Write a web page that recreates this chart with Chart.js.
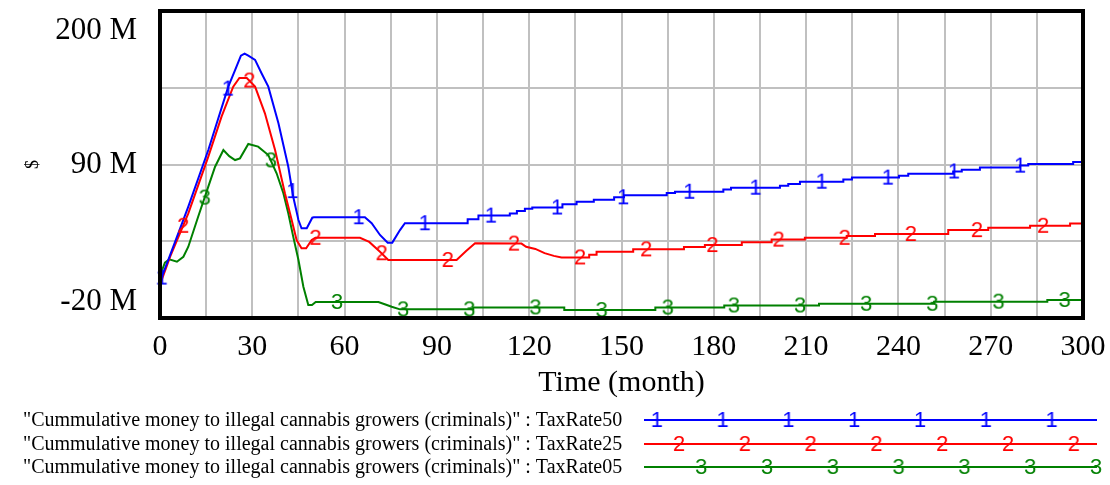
<!DOCTYPE html>
<html>
<head>
<meta charset="utf-8">
<title>Cummulative money to illegal cannabis growers</title>
<script src="https://cdn.jsdelivr.net/npm/chart.js@4.4.1/dist/chart.umd.min.js"></script>
<style>
  html, body { margin: 0; padding: 0; background: #fff; }
</style>
</head>
<body>
<canvas id="chart" width="1110" height="485"></canvas>
<script>
// ===== Data (values in millions of $, time in months) =====
const timeRate50 = [0, 0.5, 2.7, 9.2, 15.7, 22.2, 24.4, 26.3, 27.5, 28.7, 30.9, 33, 35.2, 38.5, 41.7, 43.3, 45, 46, 47.7, 49.5, 50,
  66.6, 68.8, 71.5, 74, 75.5, 78, 79.6, 100, 100, 103.5, 103.5, 113.7, 113.7, 116, 116, 118.6, 118.6, 121, 121,
  130.8, 130.8, 135.4, 135.4, 141, 141, 147.6, 147.6, 150.8, 150.8, 164.7, 164.7, 167.4, 167.4, 183.1, 183.1,
  185.6, 185.6, 201.5, 201.5, 204.2, 204.2, 208, 208, 222.1, 222.1, 224.9, 224.9, 240.2, 240.2, 243.2, 243.2,
  257.8, 257.8, 260.6, 260.6, 266.5, 266.5, 279.5, 279.5, 282.2, 282.2, 296.8, 296.8, 300];
const taxRate50 = [0, 9, 21.6, 59.8, 100.4, 145.8, 157.7, 168, 169.5, 168, 165, 155.4, 145.8, 119.5, 88.4, 66.9, 50.2, 44.3, 44.3, 51.9, 52.2,
  52.2, 47.9, 39.5, 34, 34, 43, 47.9, 47.9, 50.8, 50.8, 53.4, 53.4, 54.8, 54.8, 56.6, 56.6, 58.3, 58.3, 59.2,
  59.2, 61.5, 61.5, 63.3, 63.3, 64.8, 64.8, 66.5, 66.5, 68, 68, 69.6, 69.6, 70.5, 70.5, 72,
  72, 73.4, 73.4, 74.8, 74.8, 76.1, 76.1, 77.7, 77.7, 79.2, 79.2, 80.6, 80.6, 82, 82, 83.4,
  83.4, 85, 85, 86.3, 86.3, 87.8, 87.8, 89.2, 89.2, 90.4, 90.4, 91.8, 91.8];

const timeRate25 = [0, 0.5, 3.3, 9.2, 15.7, 20, 23.8, 25.8, 28.2, 30.9, 34.1, 37.4, 40.6, 42.8, 44.4, 46, 47.5, 49.3, 50.5,
  65, 68, 71.5, 74.2, 96.4, 99.5, 102.4, 117.5, 119, 122, 125, 128, 130.5, 139.5, 139.5, 141.9, 141.9,
  153.8, 153.8, 170.3, 170.3, 177.1, 177.1, 189.1, 189.1, 198.8, 198.8, 209.6, 209.6, 223.2, 223.2,
  232.4, 232.4, 256.2, 256.2, 269.2, 269.2, 282.8, 282.8, 295.8, 295.8, 300];
const taxRate25 = [0, 7, 24, 55, 95.6, 124.3, 145.8, 152, 152, 145.8, 126.7, 100.4, 69.4, 50.2, 35.9, 30, 30, 35.9, 37.5,
  37.5, 34.5, 27.5, 21.6, 21.6, 28, 33.5, 33.3, 31, 29.5, 26.5, 24.5, 23.4, 23.4, 25.3, 25.3, 27.4,
  27.4, 29.2, 29.2, 30.9, 30.9, 32.3, 32.3, 34.2, 34.2, 36.2, 36.2, 37.5, 37.5, 38.8,
  38.8, 40.2, 40.2, 43, 43, 44.6, 44.6, 46.1, 46.1, 47.7, 47.7];

const timeRate05 = [0, 0.8, 1.6, 3, 5.5, 7.6, 9.2, 12.4, 15.7, 17.9, 20.6, 22.5, 24.4, 26, 28.7, 31.9, 35.2, 37.9, 40.1,
  41.7, 43.3, 45, 46.6, 48.2, 49.4, 50.6, 71, 73.5, 75.3, 78, 101.8, 101.8, 131.4, 131.4, 161, 161,
  183.4, 183.4, 214.2, 214.2, 251.6, 251.6, 288.4, 288.4, 300];
const taxRate05 = [0, 15, 19.6, 22, 20.3, 23.9, 31.1, 52.6, 74.1, 88.4, 100.4, 96, 93.2, 94.4, 104.7, 102.8, 96.8, 83.7, 69.4,
  55, 38.3, 21.6, 2.4, -10.7, -10.7, -8.5, -8.5, -10.5, -11.9, -13.8, -13.8, -12.4, -12.4, -14.3, -14.3, -12.5,
  -12.5, -11, -11, -9.8, -9.8, -8.3, -8.3, -7.1, -7.1];

// times where the series number is printed on each line
const markTimes50 = [0.5, 22, 43, 64.5, 86, 107.5, 129, 150.5, 172, 193.5, 215, 236.5, 258, 279.5];
const markTimes25 = [7.5, 29, 50.5, 72, 93.5, 115, 136.5, 158, 179.5, 201, 222.5, 244, 265.5, 287];
const markTimes05 = [14.5, 36, 57.5, 79, 100.5, 122, 143.5, 165, 186.5, 208, 229.5, 251, 272.5, 294];

const yGridValues = [-20, 35, 90, 145, 200];
const yLabelValues = [200, 90, -20];
const variableName = '"Cummulative money to illegal cannabis growers (criminals)"';
const runNames = ['TaxRate50', 'TaxRate25', 'TaxRate05'];
const runColors = ['#0000ff', '#ff0000', '#008000'];

const SERIF = '"Liberation Serif", "Times New Roman", serif';
const SANS = '"Liberation Sans", Arial, sans-serif';

// ===== helpers =====
function toPoints(times, values) {
  return times.map((t, i) => ({ x: t, y: values[i] }));
}

// value of the drawn polyline at time t
function lineValueAt(times, values, t) {
  let i = 0;
  while (i < times.length - 2 && times[i + 1] <= t) i++;
  const t0 = times[i], t1 = times[i + 1];
  if (t1 === t0) return values[i + 1];
  return values[i] + (values[i + 1] - values[i]) * (t - t0) / (t1 - t0);
}

function digitImage(digit, color) {
  const c = document.createElement('canvas');
  c.width = 20;
  c.height = 26;
  const g = c.getContext('2d');
  g.font = '22px ' + SANS;
  g.fillStyle = color;
  g.textAlign = 'center';
  g.textBaseline = 'middle';
  g.fillText(digit, 10, 14);
  return c;
}

const runs = [
  { times: timeRate50, values: taxRate50, marks: markTimes50 },
  { times: timeRate25, values: taxRate25, marks: markTimes25 },
  { times: timeRate05, values: taxRate05, marks: markTimes05 }
];
const digits = runs.map((r, i) => digitImage(String(i + 1), runColors[i]));

const datasets = [];
runs.forEach((r, i) => {
  datasets.push({
    label: runNames[i],
    data: toPoints(r.times, r.values),
    borderColor: runColors[i],
    borderWidth: 2,
    pointRadius: 0,
    fill: false,
    order: i + 1
  });
  datasets.push({
    label: runNames[i] + ' marks',
    data: r.marks.map(t => ({ x: t, y: lineValueAt(r.times, r.values, t) })),
    showLine: false,
    pointStyle: digits[i],
    pointRadius: 8,
    clip: false,
    order: 0
  });
});

// ===== frame, y labels and run legend =====
const vensimDecor = {
  id: 'vensimDecor',
  afterDraw(chart) {
    const { ctx, chartArea: a, scales } = chart;
    ctx.save();

    // heavy plot frame
    ctx.strokeStyle = '#000';
    ctx.lineWidth = 4;
    ctx.strokeRect(a.left, a.top, a.right - a.left, a.bottom - a.top);

    // value labels: top one sits inside the top edge, bottom one inside the bottom edge
    ctx.fillStyle = '#000';
    ctx.font = '31px ' + SERIF;
    ctx.textAlign = 'right';
    ctx.textBaseline = 'middle';
    yLabelValues.forEach((v, i) => {
      let y = scales.y.getPixelForValue(v);
      if (i === 0) y += 20;
      if (i === yLabelValues.length - 1) y -= 16;
      ctx.fillText(v + ' M', 137, y);
    });

    // legend rows
    const rowY = [420, 444, 467];
    ctx.textAlign = 'left';
    ctx.font = '20px ' + SERIF;
    runNames.forEach((name, i) => {
      ctx.fillStyle = '#000';
      ctx.fillText(variableName + ' : ' + name, 23, rowY[i] + 1);
      ctx.strokeStyle = runColors[i];
      ctx.lineWidth = 2;
      ctx.beginPath();
      ctx.moveTo(644, rowY[i]);
      ctx.lineTo(1097, rowY[i]);
      ctx.stroke();
      for (let k = 0; k < 7; k++) {
        const x = 656.7 + i * 22.2 + k * 65.8;
        ctx.drawImage(digits[i], x - 10, rowY[i] - 13);
      }
    });

    ctx.restore();
  }
};

// ===== chart =====
const ctx = document.getElementById('chart').getContext('2d');
new Chart(ctx, {
  type: 'line',
  data: { datasets: datasets },
  options: {
    responsive: false,
    animation: false,
    layout: { padding: { top: 11, right: 27, bottom: 84, left: 0 } },
    plugins: {
      legend: { display: false },
      tooltip: { enabled: false }
    },
    scales: {
      x: {
        type: 'linear',
        min: 0,
        max: 300,
        afterFit: s => {
          s.height = 83;
          s.paddingLeft = 0;
          s.paddingRight = 0;
        },
        ticks: {
          stepSize: 15,
          autoSkip: false,
          maxRotation: 0,
          padding: 11,
          color: '#000',
          font: { family: SERIF, size: 30 },
          callback: v => (v % 30 === 0 ? String(v) : '')
        },
        grid: { color: '#c0c0c0', lineWidth: 2, drawTicks: false },
        border: { display: false },
        title: {
          display: true,
          text: 'Time (month)',
          color: '#000',
          font: { family: SERIF, size: 30 },
          padding: 0
        }
      },
      y: {
        min: -20,
        max: 200,
        afterFit: s => { s.width = 160; },
        afterBuildTicks: s => { s.ticks = yGridValues.map(v => ({ value: v })); },
        ticks: { display: false },
        grid: { color: '#c0c0c0', lineWidth: 2, drawTicks: false },
        border: { display: false },
        title: {
          display: true,
          text: '$',
          color: '#000',
          font: { family: SERIF, size: 18 },
          padding: { top: 22, bottom: 0 }
        }
      }
    }
  },
  plugins: [vensimDecor]
});
</script>
</body>
</html>
